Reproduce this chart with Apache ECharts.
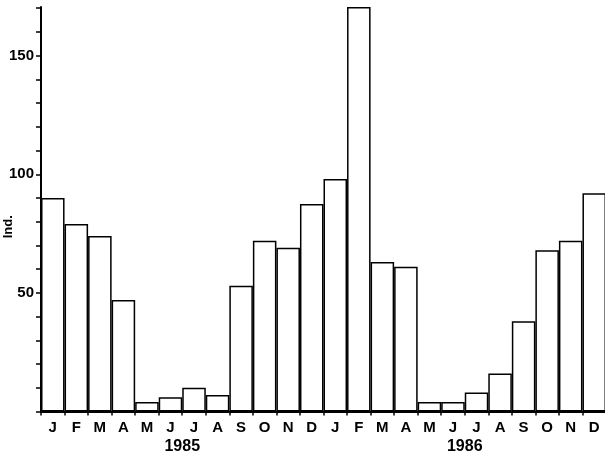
<!DOCTYPE html>
<html><head><meta charset="utf-8">
<script src="https://cdn.jsdelivr.net/npm/echarts@6/dist/echarts.min.js"></script>
<style>html,body{margin:0;padding:0;background:#fff}#c{width:605px;height:455px}</style>
</head><body><div id="c"></div>
<script>
const months = ['J','F','M','A','M','J','J','A','S','O','N','D','J','F','M','A','M','J','J','A','S','O','N','D'];
const individuals = [90,79,74,47,4,6,10,7,53,72,69,87.5,98,170.5,63,61,4,4,8,16,38,68,72,92];
const yearLabels = {6:'1985', 18:'1986'};
const yLabelValues = [50,100,150];
const FONT = '"Liberation Sans", Arial, sans-serif';

const chart = echarts.init(document.getElementById('c'), null, {renderer:'canvas'});
chart.setOption({
  animation:false,
  grid:{left:41, top:7, width:565, height:404.5, containLabel:false, outerBoundsMode:'none'},
  xAxis:[{
    type:'category', data:months, boundaryGap:true,
    axisLine:{lineStyle:{color:'#000', width:2}},
    axisTick:{show:true, length:4, lineStyle:{color:'#000', width:1.5}},
    axisLabel:{color:'#000', fontFamily:FONT, fontWeight:'bold', fontSize:15, margin:9, interval:0}
  },{
    type:'value', min:0, max:24, interval:6, position:'bottom', offset:19,
    axisLine:{show:false}, axisTick:{show:false}, splitLine:{show:false},
    axisLabel:{color:'#000', fontFamily:FONT, fontWeight:'bold', fontSize:16, margin:8,
      formatter:v=>yearLabels[v]||''}
  }],
  yAxis:{
    type:'value', min:0, max:170.5, interval:10,
    name:'Ind.', nameLocation:'middle', nameRotate:90, nameGap:26, nameMoveOverlap:false,
    nameTextStyle:{color:'#000', fontFamily:FONT, fontWeight:'bold', fontSize:13, padding:[0,35,0,0]},
    axisLine:{show:true, lineStyle:{color:'#000', width:2}},
    axisTick:{show:true, length:5, lineStyle:{color:'#000', width:1.5}},
    splitLine:{show:false},
    axisLabel:{color:'#000', fontFamily:FONT, fontWeight:'bold', fontSize:15, margin:7,
      showMaxLabel:false, formatter:v=>yLabelValues.includes(v)?String(v):''}
  },
  series:[{
    type:'bar', data:individuals, barCategoryGap:'0%', xAxisIndex:0,
    itemStyle:{color:'#fff', borderColor:'#000', borderWidth:1.5}
  }]
});
</script></body></html>
